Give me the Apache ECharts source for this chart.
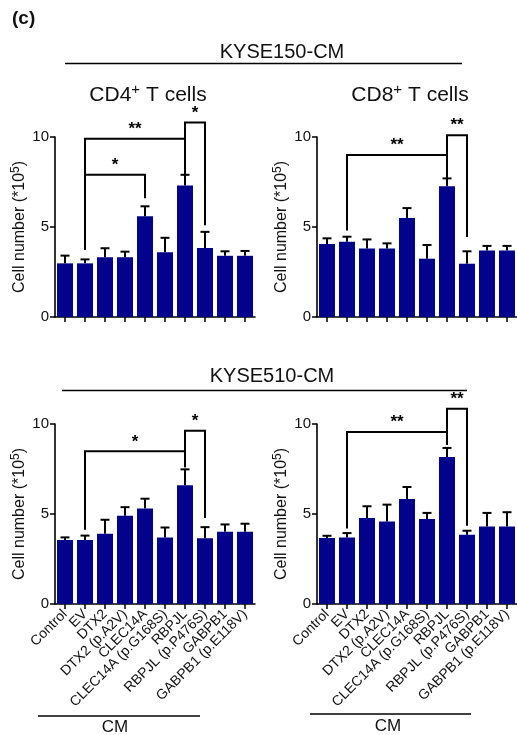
<!DOCTYPE html>
<html>
<head>
<meta charset="utf-8">
<script src="https://cdn.jsdelivr.net/npm/echarts@6/dist/echarts.min.js"></script>
<style>html,body{margin:0;padding:0;background:#fff}#c{width:517px;height:735px}</style>
</head>
<body>
<div id="c"></div>
<script>
const categories = ['Control','EV','DTX2','DTX2 (p.A2V)','CLEC14A','CLEC14A (p.G168S)','RBPJL','RBPJL (p.P476S)','GABPB1','GABPB1 (p.E118V)'];
const yTicks = [0, 5, 10];

const kyse150Cd4Mean = [2.98, 2.98, 3.32, 3.32, 5.6, 3.6, 7.3, 3.83, 3.4, 3.4];
const kyse150Cd4Err  = [0.43, 0.22, 0.5, 0.31, 0.55, 0.8, 0.6, 0.9, 0.25, 0.27];
const kyse150Cd8Mean = [4.06, 4.18, 3.81, 3.81, 5.5, 3.24, 7.26, 2.96, 3.7, 3.7];
const kyse150Cd8Err  = [0.31, 0.28, 0.5, 0.28, 0.55, 0.76, 0.44, 0.69, 0.25, 0.25];
const kyse510Cd4Mean = [3.56, 3.56, 3.9, 4.9, 5.3, 3.7, 6.6, 3.65, 4.02, 4.02];
const kyse510Cd4Err  = [0.14, 0.24, 0.78, 0.48, 0.55, 0.55, 0.88, 0.62, 0.4, 0.44];
const kyse510Cd8Mean = [3.67, 3.7, 4.78, 4.59, 5.83, 4.72, 8.17, 3.85, 4.31, 4.31];
const kyse510Cd8Err  = [0.12, 0.24, 0.65, 0.93, 0.67, 0.34, 0.5, 0.22, 0.75, 0.79];

// [fromIndex, toIndex, level, leftEnd, rightEnd, label]
const kyse150Cd4Sig = [[1, 4, 7.9, 3.72, 6.6, '*'], [1, 6, 9.9, 3.72, 8.05, '**'], [6, 7, 10.8, 7.7, 5.1, '*']];
const kyse150Cd8Sig = [[1, 6, 9.0, 4.8, 7.65, '**'], [6, 7, 10.1, 7.65, 4.45, '**']];
const kyse510Cd4Sig = [[1, 6, 8.48, 4.13, 7.6, '*'], [6, 7, 9.63, 7.6, 4.78, '*']];
const kyse510Cd8Sig = [[1, 6, 9.56, 4.2, 8.85, '**'], [6, 7, 10.85, 8.85, 4.35, '**']];

const BAR = '#02028c';
const FONT = 'Liberation Sans, Arial, sans-serif';

const panels = [
  {left: 55, top: 137, mean: kyse150Cd4Mean, err: kyse150Cd4Err, sig: kyse150Cd4Sig, labels: false},
  {left: 317, top: 137, mean: kyse150Cd8Mean, err: kyse150Cd8Err, sig: kyse150Cd8Sig, labels: false},
  {left: 55, top: 424, mean: kyse510Cd4Mean, err: kyse510Cd4Err, sig: kyse510Cd4Sig, labels: true},
  {left: 317, top: 424, mean: kyse510Cd8Mean, err: kyse510Cd8Err, sig: kyse510Cd8Sig, labels: true}
];

const grid = [], xAxis = [], yAxis = [], series = [];
panels.forEach((p, i) => {
  grid.push({left: p.left, top: p.top, width: 200, height: 180});
  xAxis.push({
    type: 'category', gridIndex: i, data: categories,
    axisLine: {lineStyle: {color: '#000', width: 1.6}},
    axisTick: {show: true, alignWithLabel: true, length: 5, lineStyle: {color: '#000', width: 1.5}},
    axisLabel: {show: p.labels, interval: 0, rotate: 45, fontSize: 14, color: '#111', fontFamily: FONT, margin: 8}
  });
  yAxis.push({
    type: 'value', gridIndex: i, min: 0, max: 10, interval: 5,
    name: '{a|Cell number (*10}{s|5}{a|)}', nameLocation: 'middle', nameRotate: 90, nameGap: 25,
    nameTextStyle: {rich: {
      a: {fontSize: 16, color: '#111', fontFamily: FONT, lineHeight: 20},
      s: {fontSize: 12, color: '#111', fontFamily: FONT, verticalAlign: 'top', lineHeight: 20, padding: [0, 0, 6, 0]}
    }},
    splitLine: {show: false},
    axisLine: {show: true, lineStyle: {color: '#000', width: 1.6}},
    axisTick: {show: true, length: 5, lineStyle: {color: '#000', width: 1.5}},
    axisLabel: {fontSize: 15, color: '#111', fontFamily: FONT, margin: 6, customValues: yTicks}
  });
  series.push({
    type: 'bar', xAxisIndex: i, yAxisIndex: i, data: p.mean, barWidth: 16,
    itemStyle: {color: BAR}, z: 2
  });
  series.push({
    type: 'custom', xAxisIndex: i, yAxisIndex: i, z: 3, clip: false,
    data: p.mean.map((m, k) => [k, m, m + p.err[k]]),
    renderItem: function (params, api) {
      const a = api.coord([api.value(0), api.value(1)]);
      const b = api.coord([api.value(0), api.value(2)]);
      return {type: 'group', children: [
        {type: 'line', shape: {x1: a[0], y1: a[1], x2: b[0], y2: b[1]}, style: {stroke: '#000', lineWidth: 2}},
        {type: 'line', shape: {x1: b[0] - 4.5, y1: b[1], x2: b[0] + 4.5, y2: b[1]}, style: {stroke: '#000', lineWidth: 2}}
      ]};
    }
  });
  series.push({
    type: 'custom', xAxisIndex: i, yAxisIndex: i, z: 4, clip: false,
    data: p.sig.map(s => [s[0], s[1], s[2], s[3], s[4]]),
    renderItem: function (params, api) {
      const s = p.sig[params.dataIndex];
      const p1 = api.coord([s[0], s[3]]);
      const p2 = api.coord([s[0], s[2]]);
      const p3 = api.coord([s[1], s[2]]);
      const p4 = api.coord([s[1], s[4]]);
      return {type: 'group', children: [
        {type: 'polyline', shape: {points: [p1, p2, p3, p4]}, style: {stroke: '#000', lineWidth: 2, fill: null}},
        {type: 'text', x: (p2[0] + p3[0]) / 2, y: p2[1] - 1,
         style: {text: s[5], fontSize: 17, fontWeight: 'bold', fill: '#000', fontFamily: FONT, align: 'center', verticalAlign: 'bottom'}}
      ]};
    }
  });
});

const subRich = {
  a: {fontSize: 21, fill: '#111', fontFamily: FONT, lineHeight: 26},
  s: {fontSize: 15, fill: '#111', fontFamily: FONT, lineHeight: 26, verticalAlign: 'top', padding: [0, 0, 10, 0]}
};

const graphic = [
  {type: 'text', left: 12, top: 9, style: {text: '(c)', fontSize: 19, fontWeight: 'bold', fill: '#111', fontFamily: FONT}},
  {type: 'text', x: 282, y: 52, style: {text: 'KYSE150-CM', fontSize: 20, fill: '#111', fontFamily: FONT, align: 'center', verticalAlign: 'middle'}},
  {type: 'line', shape: {x1: 65, y1: 63.5, x2: 462, y2: 63.5}, style: {stroke: '#000', lineWidth: 1.5}},
  {type: 'text', x: 148, y: 95, style: {text: '{a|CD4}{s|+}{a| T cells}', rich: subRich, align: 'center', verticalAlign: 'middle'}},
  {type: 'text', x: 410, y: 95, style: {text: '{a|CD8}{s|+}{a| T cells}', rich: subRich, align: 'center', verticalAlign: 'middle'}},
  {type: 'text', x: 272, y: 376, style: {text: 'KYSE510-CM', fontSize: 20, fill: '#111', fontFamily: FONT, align: 'center', verticalAlign: 'middle'}},
  {type: 'line', shape: {x1: 62, y1: 390.5, x2: 467, y2: 390.5}, style: {stroke: '#000', lineWidth: 1.5}},
  {type: 'line', shape: {x1: 38, y1: 716, x2: 200, y2: 716}, style: {stroke: '#000', lineWidth: 1.5}},
  {type: 'text', x: 115, y: 727, style: {text: 'CM', fontSize: 17, fill: '#111', fontFamily: FONT, align: 'center', verticalAlign: 'middle'}},
  {type: 'line', shape: {x1: 310, y1: 714, x2: 471, y2: 714}, style: {stroke: '#000', lineWidth: 1.5}},
  {type: 'text', x: 388, y: 726, style: {text: 'CM', fontSize: 17, fill: '#111', fontFamily: FONT, align: 'center', verticalAlign: 'middle'}}
];

const chart = echarts.init(document.getElementById('c'), null, {renderer: 'canvas'});
chart.setOption({animation: false, backgroundColor: '#fff', grid, xAxis, yAxis, series, graphic});
</script>
</body>
</html>
